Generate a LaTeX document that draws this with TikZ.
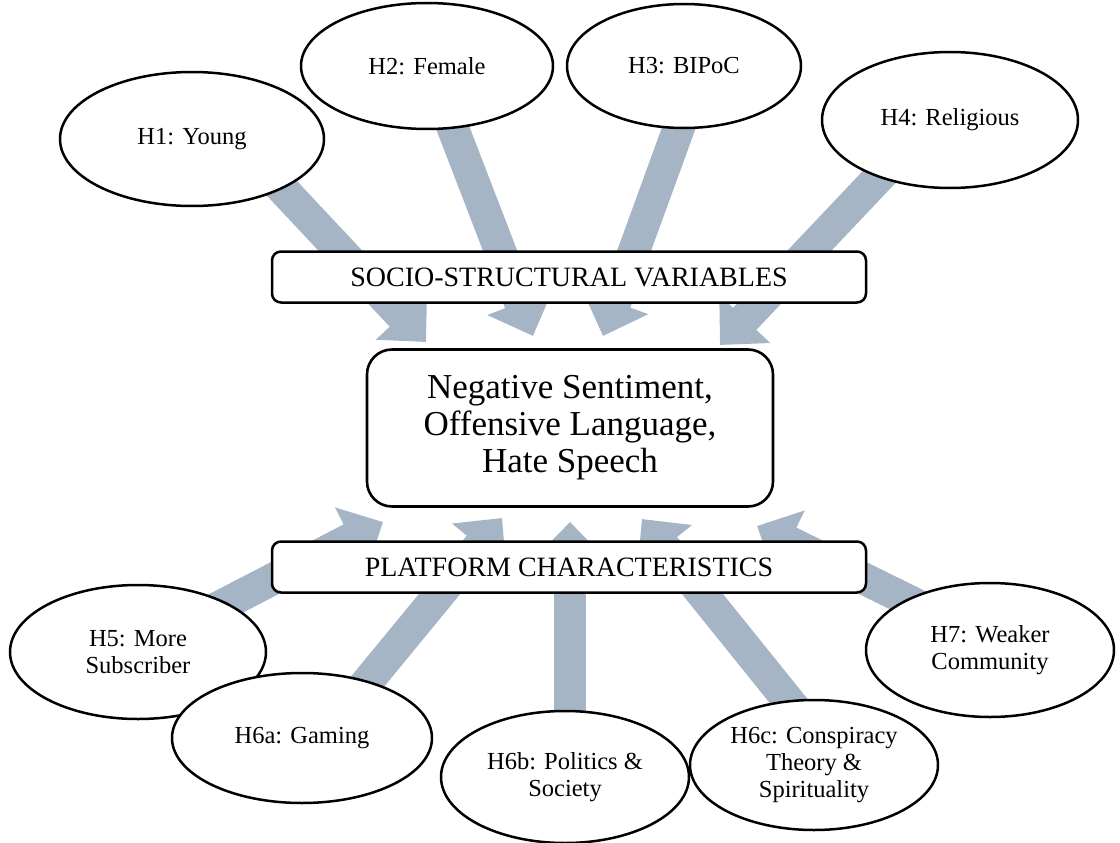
\documentclass[tikz,border=0pt]{standalone}
\usepackage{fontspec}
\setmainfont{Liberation Serif}
\usetikzlibrary{shapes.geometric,arrows.meta,backgrounds}
\definecolor{arrowgray}{RGB}{166,181,197}
\begin{document}
\begin{tikzpicture}[x=1pt,y=-1pt,
  hyp/.style={ellipse,draw=black,line width=2.5pt,fill=white,inner sep=0pt,align=center,font=\fontsize{24.5}{27}\selectfont},
  band/.style={draw=black,line width=2.5pt,fill=white,rounded corners=9pt,minimum width=594pt,minimum height=51pt,inner sep=0pt,font=\fontsize{28}{32}\selectfont},
  core/.style={draw=black,line width=2.6pt,fill=white,rounded corners=25pt,minimum width=406pt,minimum height=157pt,inner sep=0pt,align=center,font=\fontsize{35}{37}\selectfont},
  flow/.style={draw=arrowgray,line width=32pt,-{Triangle[width=68pt,length=36pt]}}
]
\useasboundingbox (0,0) rectangle (1120,843);

% hypotheses
\node[hyp,minimum width=264pt,minimum height=134pt] (h1) at (192,139) {H1: Young};
\node[hyp,minimum width=252pt,minimum height=126pt] (h2) at (427,66) {H2: Female};
\node[hyp,minimum width=234pt,minimum height=124pt] (h3) at (684,66) {H3: BIPoC};
\node[hyp,minimum width=256pt,minimum height=136pt] (h4) at (950,120) {H4: Religious};
\node[hyp,minimum width=256pt,minimum height=134pt] (h5) at (138,652) {H5: More\\Subscriber};
\node[hyp,minimum width=260pt,minimum height=130pt] (h6a) at (302,738) {H6a: Gaming};
\node[hyp,minimum width=248pt,minimum height=132pt] (h6b) at (565,777) {H6b: Politics \&\\Society};
\node[hyp,minimum width=248pt,minimum height=130pt] (h6c) at (814,765) {H6c: Conspiracy\\Theory \&\\Spirituality};
\node[hyp,minimum width=248pt,minimum height=134pt] (h7) at (990,650) {H7: Weaker\\Community};

% boxes
\node[band] (socio) at (569,277) {SOCIO-STRUCTURAL VARIABLES};
\node[band] (plat) at (569,567) {PLATFORM CHARACTERISTICS};
\node[core] (out) at (570,428) {Negative Sentiment,\\Offensive Language,\\Hate Speech};

% arrow end points
\coordinate (a1s) at (246,150);  \coordinate (a1t) at (426,342);
\coordinate (a2s) at (442,100);  \coordinate (a2t) at (533,336);
\coordinate (a3s) at (689,100);  \coordinate (a3t) at (603,336);
\coordinate (a4s) at (900,155);  \coordinate (a4t) at (720,345);
\coordinate (a5s) at (190,622);  \coordinate (a5t) at (383,522);
\coordinate (a6as) at (336,720); \coordinate (a6at) at (502,518);
\coordinate (a6bs) at (570,760); \coordinate (a6bt) at (570,522);
\coordinate (a6cs) at (812,730); \coordinate (a6ct) at (642,519);
\coordinate (a7s) at (960,626);  \coordinate (a7t) at (757,526);

\begin{pgfonlayer}{background}
\draw[flow] (a1s) -- (a1t);
\draw[flow] (a2s) -- (a2t);
\draw[flow] (a3s) -- (a3t);
\draw[flow] (a4s) -- (a4t);
\draw[flow] (a5s) -- (a5t);
\draw[flow] (a6as) -- (a6at);
\draw[flow] (a6bs) -- (a6bt);
\draw[flow] (a6cs) -- (a6ct);
\draw[flow] (a7s) -- (a7t);
\end{pgfonlayer}
\end{tikzpicture}
\end{document}
